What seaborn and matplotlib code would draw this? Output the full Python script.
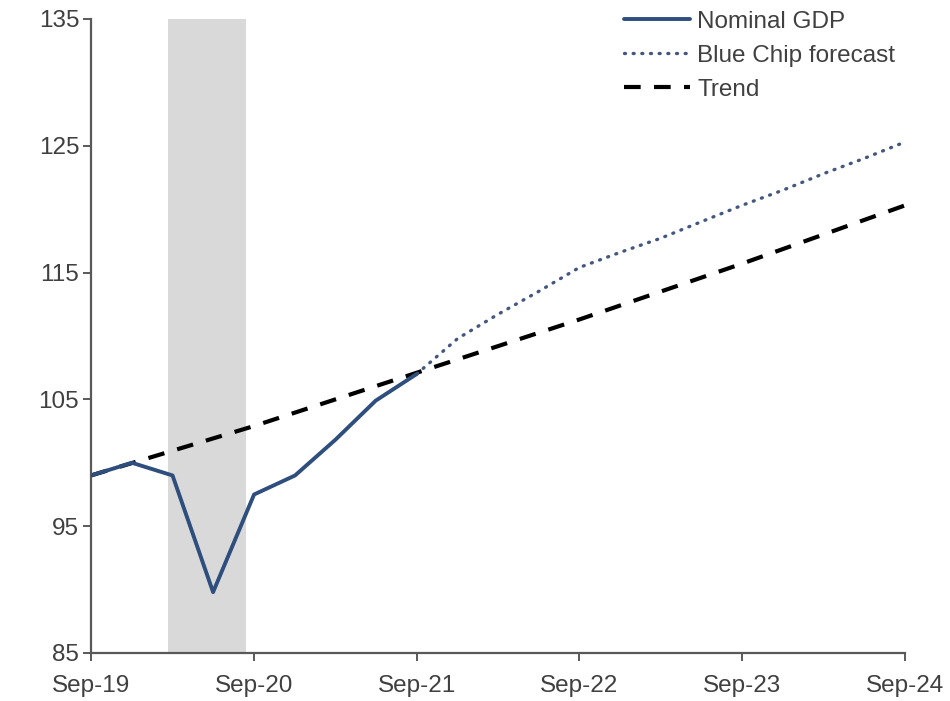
import matplotlib
matplotlib.use("Agg")
import matplotlib.pyplot as plt
import numpy as np
import pandas as pd
import seaborn as sns

# Quarter-end dates, Sep-2019 .. Sep-2024
quarters = pd.date_range("2019-09-30", "2024-09-30", freq="QE")

# Nominal GDP index (actuals, Sep-19 .. Sep-21)
gdp_dates = quarters[:9]
gdp_values = [99.0, 100.0, 99.0, 89.8, 97.5, 99.0, 101.8, 104.9, 107.0]

# Blue Chip consensus forecast (Sep-21 .. Sep-24)
forecast_dates = quarters[8:]
forecast_values = [107.0, 109.8, 111.7, 113.5, 115.4, 116.6, 117.7, 119.0,
                   120.3, 121.5, 122.8, 124.0, 125.3]

# Pre-pandemic trend, annual points
trend_dates = quarters[::4]
trend_values = [99.0, 102.9, 107.1, 111.3, 115.7, 120.3]

# Recession shading
recession_start = pd.Timestamp("2020-03-20")
recession_end = pd.Timestamp("2020-09-12")

tick_labels = ["Sep-19", "Sep-20", "Sep-21", "Sep-22", "Sep-23", "Sep-24"]

sns.set_theme(style="white")
plt.rcParams["font.family"] = ["Liberation Sans", "DejaVu Sans"]

text_color = "#404040"
axis_color = "#595959"
navy = "#2E4E7E"
FS = 17.5

fig = plt.figure(figsize=(9.5, 7.01), dpi=100)
ax = fig.add_axes([0.0958, 0.0685, 0.8568, 0.9044])

ax.axvspan(recession_start, recession_end, color="#D9D9D9", lw=0, zorder=0)

gdp_df = pd.DataFrame({"date": gdp_dates, "value": gdp_values})
fc_df = pd.DataFrame({"date": forecast_dates, "value": forecast_values})
tr_df = pd.DataFrame({"date": trend_dates, "value": trend_values})

sns.lineplot(data=tr_df, x="date", y="value", ax=ax, color="black",
             lw=3.0, label="Trend", zorder=2)
ax.lines[-1].set_dashes((4.0, 3.2))
sns.lineplot(data=fc_df, x="date", y="value", ax=ax, color="#44587F",
             lw=2.4, label="Blue Chip forecast", zorder=3)
ax.lines[-1].set_dashes((0.3, 2.3))
ax.lines[-1].set_dash_capstyle("round")
sns.lineplot(data=gdp_df, x="date", y="value", ax=ax, color=navy,
             lw=2.8, label="Nominal GDP", zorder=4)

ax.set_xlim(quarters[0], quarters[-1])
ax.set_ylim(85, 135)
ax.set_yticks([85, 95, 105, 115, 125, 135])
ax.set_xticks(trend_dates)
ax.set_xticklabels(tick_labels)
ax.set_xlabel("")
ax.set_ylabel("")

for side in ["top", "right"]:
    ax.spines[side].set_visible(False)
for side in ["left", "bottom"]:
    ax.spines[side].set_color(axis_color)
    ax.spines[side].set_linewidth(1.6)

ax.tick_params(axis="both", which="major", direction="out", length=5.5,
               width=1.4, color=axis_color, labelsize=FS,
               labelcolor=text_color, bottom=True, left=True)
ax.tick_params(axis="x", pad=10)
ax.tick_params(axis="y", pad=3)

handles, labels = ax.get_legend_handles_labels()
order = [labels.index(l) for l in ["Nominal GDP", "Blue Chip forecast", "Trend"]]
leg = ax.legend([handles[i] for i in order], [labels[i] for i in order],
                loc="upper left", bbox_to_anchor=(0.657, 0.985),
                bbox_transform=fig.transFigure, frameon=False,
                fontsize=FS, handlelength=2.7, handletextpad=0.3,
                labelspacing=0.5, borderaxespad=0, borderpad=0)
for t in leg.get_texts():
    t.set_color(text_color)

fig.savefig("out.png", dpi=100)
